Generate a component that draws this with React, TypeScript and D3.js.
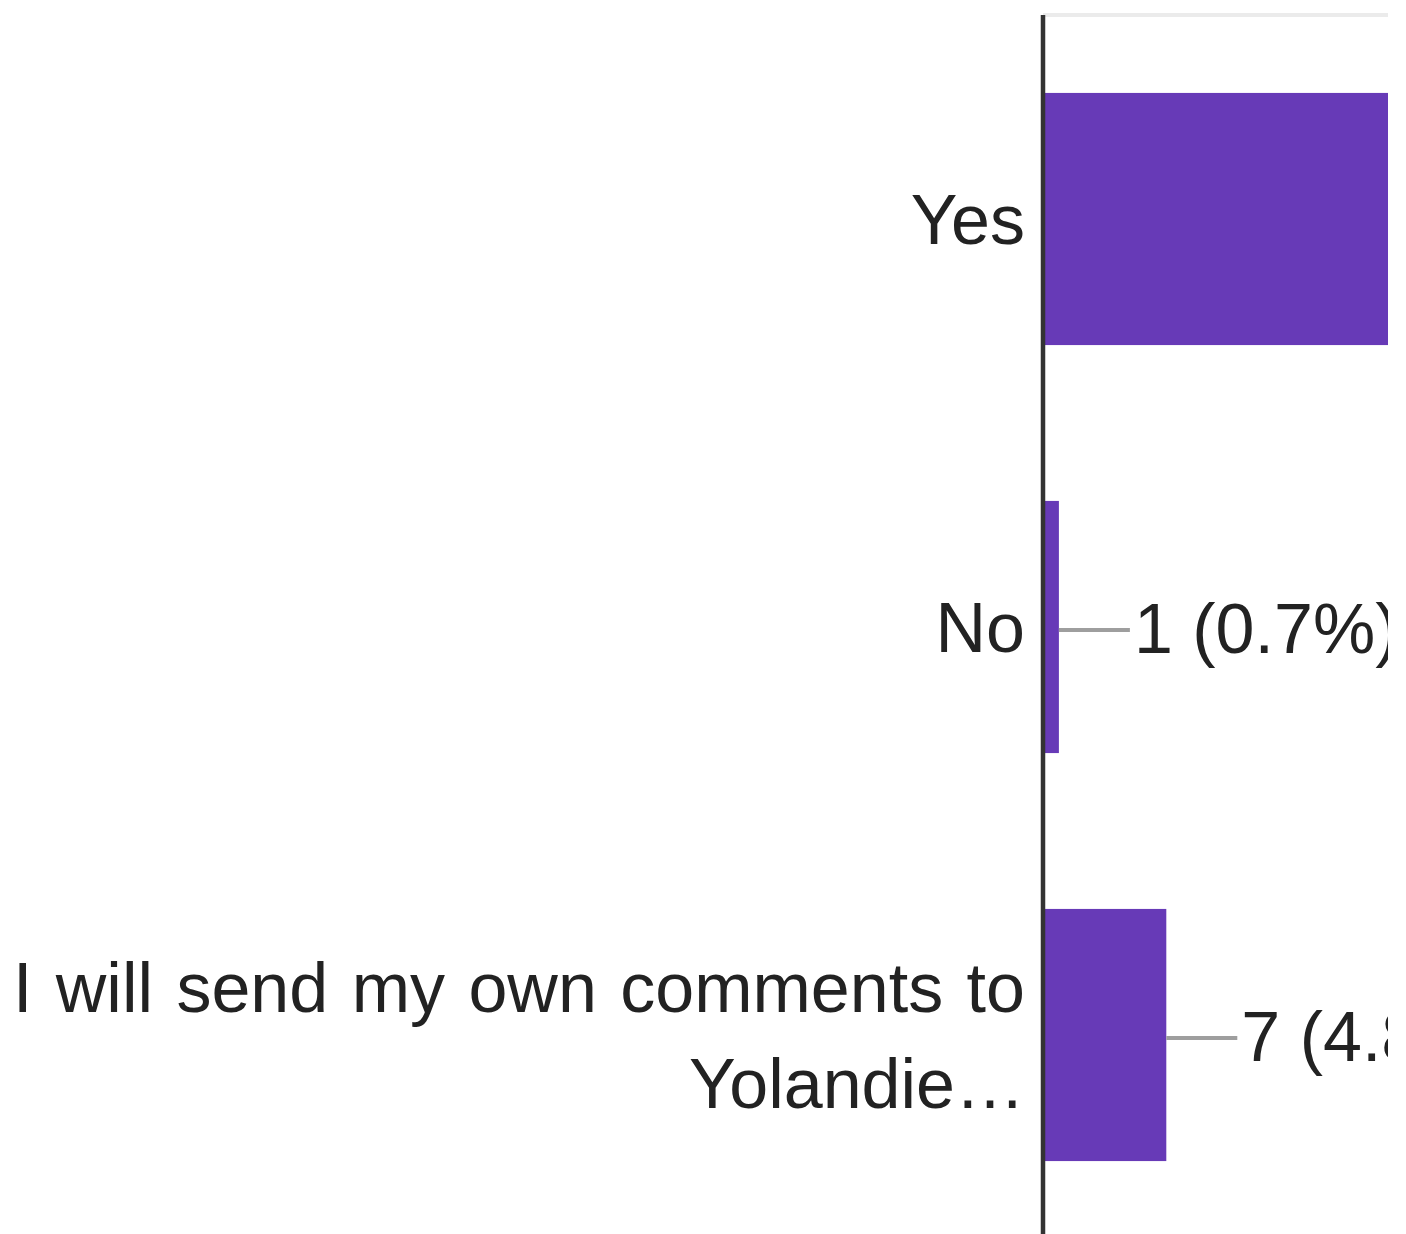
import React from "react";
import * as d3 from "d3";

const categories: string[][] = [["Yes"], ["No"], ["I will send my own comments to", "Yolandie…"]];
const counts: number[] = [138, 1, 7];
const percents: string[] = ["94.5%", "0.7%", "4.8%"];

const W = 1406;
const H = 1234;
const axisX = 1043;
const clipRight = 1388;
const top = 15;
const bottom = 1239;

export default function App() {
  const keys = categories.map((c) => c.join(" "));
  const x = d3.scaleLinear().domain([0, 140]).range([1041, 1041 + 140 * 17.9]);
  const y = d3.scaleBand<string>().domain(keys).range([top, bottom]).paddingInner(0.382).paddingOuter(0.191);
  const font = "'Liberation Sans', Arial, sans-serif";
  const fs = 70;
  return (
    <div style={{ position: "absolute", left: 0, top: 0, width: W, height: H, background: "#fff" }}>
      <svg width={W} height={H} style={{ display: "block" }}>
        <defs>
          <clipPath id="plotclip">
            <rect x={0} y={0} width={clipRight} height={H} />
          </clipPath>
        </defs>
        <g clipPath="url(#plotclip)">
          <line x1={axisX} x2={clipRight} y1={top} y2={top} stroke="#ebebeb" strokeWidth={4} />
          {keys.map((k, i) => {
            const y0 = y(k)!;
            const bw = y.bandwidth();
            const cy = y0 + bw / 2;
            const ly = cy + 3;
            const x1 = x(counts[i]);
            const lines = categories[i];
            const lh = 96;
            return (
              <g key={k}>
                <rect x={x(0)} y={y0} width={x1 - x(0)} height={bw} fill="#673ab7" />
                <line x1={x1} x2={x1 + 71} y1={ly} y2={ly} stroke="#9e9e9e" strokeWidth={4} />
                <text x={x1 + 75} y={ly} dy="0.33em" fontFamily={font} fontSize={fs} fill="#222">
                  {`${counts[i]} (${percents[i]})`}
                </text>
                <text textAnchor="end" fontFamily={font} fontSize={fs} fill="#222" wordSpacing={4}>
                  {lines.map((ln, j) => (
                    <tspan key={j} x={1025} y={cy - ((lines.length - 1) * lh) / 2 + j * lh} dy="0.35em">
                      {ln}
                    </tspan>
                  ))}
                </text>
              </g>
            );
          })}
          <line x1={axisX} x2={axisX} y1={top} y2={H} stroke="#333" strokeWidth={4.5} />
        </g>
      </svg>
    </div>
  );
}
